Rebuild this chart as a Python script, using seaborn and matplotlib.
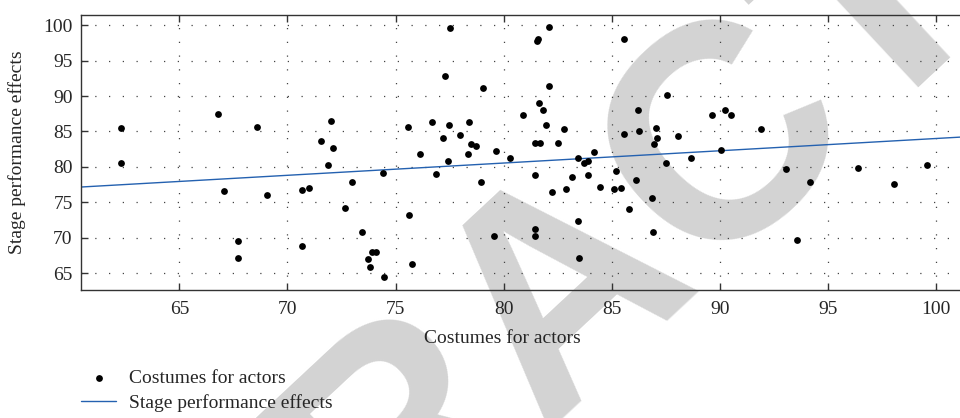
import matplotlib
matplotlib.use("Agg")
import matplotlib.pyplot as plt
import seaborn as sns
import pandas as pd

# values
costume_x = [62.3, 62.3, 66.8, 68.6, 67.05, 69.05, 67.7, 67.7,
             72.0, 71.55, 72.1, 71.86, 70.67, 71.0, 72.98, 72.67, 70.67, 73.43,
             73.9, 74.1, 73.72, 73.83, 74.46, 74.42, 75.57, 76.68, 76.13, 76.85,
             75.62, 75.74,
             77.53, 77.3, 77.47, 77.2, 78.0, 78.4, 78.47, 78.7, 78.35, 77.42,
             79.65, 78.96, 79.05, 80.3, 79.56, 82.1, 81.53, 81.58, 82.08, 81.64,
             81.8, 80.9, 81.94, 82.77, 81.43, 81.7, 82.5, 83.45, 81.47, 83.17,
             82.25, 82.88, 83.43, 81.44, 81.47, 83.5,
             85.55, 87.55, 86.2, 89.64, 85.55, 86.27, 87.04, 87.1, 86.96, 88.07,
             84.2, 83.72, 83.9, 83.92, 85.2, 84.48, 85.1, 85.45, 86.11, 87.53,
             88.68, 86.85, 85.82, 86.93,
             90.26, 90.52, 91.9, 90.07, 93.06, 94.19, 96.4, 98.04, 99.6, 93.57]
stage_y = [85.5, 80.6, 87.5, 85.7, 76.6, 76.0, 69.5, 67.1,
           86.5, 83.6, 82.65, 80.2, 76.7, 77.05, 77.85, 74.2, 68.8, 70.8,
           68.0, 68.0, 67.0, 65.8, 64.4, 79.1, 85.7, 86.4, 81.8, 79.0,
           73.2, 66.3,
           99.6, 92.9, 85.95, 84.07, 84.5, 86.4, 83.3, 83.0, 81.8, 80.8,
           82.2, 77.85, 91.2, 81.25, 70.3, 99.8, 97.8, 98.0, 91.4, 89.0,
           88.1, 87.3, 85.85, 85.4, 83.35, 83.35, 83.35, 81.25, 78.85, 78.6,
           76.4, 76.85, 72.3, 71.2, 70.3, 67.1,
           98.1, 90.2, 88.0, 87.3, 84.7, 85.1, 85.5, 84.1, 83.2, 84.4,
           82.1, 80.5, 80.8, 78.9, 79.4, 77.1, 76.9, 77.05, 78.2, 80.6,
           81.25, 75.55, 74.05, 70.75,
           88.1, 87.3, 85.3, 82.4, 79.7, 77.8, 79.9, 77.6, 80.25, 69.65]

# fitted line end points
fit_x = [60.45, 101.11]
fit_y = [77.15, 84.2]

x_ticks = [65, 70, 75, 80, 85, 90, 95, 100]
y_ticks = [65, 70, 75, 80, 85, 90, 95, 100]

sns.set_theme(style="white")
plt.rcParams['font.family'] = ['Liberation Serif', 'DejaVu Serif']

df_points = pd.DataFrame({'costume': costume_x, 'stage': stage_y})
df_fit = pd.DataFrame({'costume': fit_x, 'stage': fit_y})

fig = plt.figure(figsize=(9.6, 4.18), dpi=100)
ax = fig.add_axes([81 / 960, 1 - 290 / 418, 879 / 960, 275.3 / 418])
ax.set_facecolor('none')

# retraction watermark behind the chart
fig.text(620 / 960, 1 - 347 / 418, 'RETRACTED', rotation=43, rotation_mode='anchor',
         ha='center', va='baseline', fontsize=219.6, fontweight='bold',
         family='Liberation Sans', color='#d3d3d3', zorder=-10)

sns.scatterplot(data=df_points, x='costume', y='stage', ax=ax, color='black',
                s=24, linewidth=0, label='Costumes for actors', zorder=3)
sns.lineplot(data=df_fit, x='costume', y='stage', ax=ax, color='#2461b0',
             linewidth=1.0, label='Stage performance effects', zorder=2)

ax.set_xlim(60.45, 101.11)
ax.set_ylim(62.6, 101.5)
ax.set_xticks(x_ticks)
ax.set_yticks(y_ticks)
ax.tick_params(axis='both', direction='in', length=5, width=1, color='#333333',
               labelsize=14, pad=6)
ax.tick_params(axis='x', top=True, bottom=True, pad=8)
ax.tick_params(axis='y', left=True, right=False)
for side in ['left', 'bottom', 'top']:
    ax.spines[side].set_color('#333333')
    ax.spines[side].set_linewidth(1.0)
ax.spines['right'].set_visible(False)

ax.grid(True, linestyle=(0, (1, 10)), linewidth=0.9, color='#444444')

ax.set_xlabel('Costumes for actors', fontsize=14)
ax.set_ylabel('Stage performance effects', fontsize=14)
ax.xaxis.set_label_coords((502 - 81) / 879, -0.145)
ax.yaxis.set_label_coords(-0.063, 0.5)

ax.legend(loc='upper left', bbox_to_anchor=(81 / 960, 1 - 369 / 418),
          bbox_transform=fig.transFigure, frameon=False, fontsize=14,
          borderpad=0, borderaxespad=0, handlelength=1.8, handletextpad=0.65,
          labelspacing=0.4)

fig.savefig('out.png', dpi=100)
plt.close(fig)
